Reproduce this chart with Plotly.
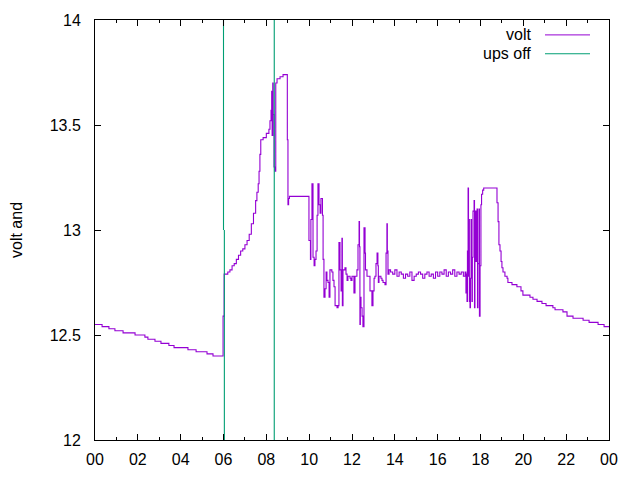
import plotly.graph_objects as go

# ---- data (hours of day, battery voltage) ----
HOURS = [
    0.00, 0.33, 0.65, 0.93, 1.31, 1.87, 2.33, 2.47, 2.80, 3.08, 3.45, 3.69, 4.34, 4.72, 5.23, 5.51,
    5.98, 6.03, 6.20, 6.30, 6.40, 6.50, 6.60, 6.70, 6.80, 6.90, 7.00, 7.10, 7.20, 7.30, 7.40, 7.50,
    7.56, 7.62, 7.66, 7.70, 7.74, 7.85, 8.00, 8.12, 8.17, 8.22, 8.25, 8.27, 8.30, 8.32, 8.36, 8.40,
    8.44, 8.50, 8.64, 8.78, 8.98, 9.01, 9.04, 9.08, 9.99,
    10.06, 10.08, 10.13, 10.18, 10.23, 10.27, 10.32, 10.37, 10.41, 10.46, 10.51, 10.55, 10.62, 10.65,
    10.69, 10.74, 10.79, 10.83, 10.88, 10.93, 10.97, 11.06, 11.11, 11.16, 11.21, 11.30, 11.35, 11.39,
    11.44, 11.49, 11.53, 11.55, 11.58, 11.67, 11.72, 11.77, 11.81, 11.91, 11.95, 12.00, 12.09, 12.14,
    12.23, 12.28, 12.33, 12.35, 12.37, 12.39, 12.42, 12.47, 12.51, 12.56, 12.61, 12.63, 12.70, 12.84,
    12.93, 12.98, 13.03, 13.07, 13.12, 13.17, 13.21, 13.23, 13.26, 13.35, 13.40, 13.45, 13.54, 13.59,
    13.63, 13.65, 13.68, 13.73,
    13.80, 13.90, 14.00, 14.10, 14.20, 14.30, 14.40, 14.50, 14.60, 14.70, 14.80, 14.90, 15.00, 15.10,
    15.20, 15.30, 15.40, 15.50, 15.60, 15.70, 15.80, 15.90, 16.00, 16.10, 16.20, 16.30, 16.40, 16.50,
    16.60, 16.70, 16.80, 16.90, 17.00, 17.10, 17.20, 17.28,
    17.32, 17.34, 17.37, 17.39, 17.42, 17.44, 17.46, 17.48, 17.51, 17.53, 17.56, 17.58, 17.60, 17.62,
    17.65, 17.70, 17.72, 17.74, 17.79, 17.84, 17.86, 17.88, 17.93, 17.95, 17.98, 18.02, 18.05, 18.10,
    18.15, 18.77, 18.82, 18.86, 18.91, 18.96, 19.00, 19.05, 19.14, 19.24, 19.28, 19.47, 19.70, 19.89,
    19.98, 20.31, 20.45, 20.64, 20.87, 21.06, 21.38, 21.48, 21.85, 22.04, 22.32, 22.79, 23.07, 23.49,
    23.77, 24.00,
]
VOLT = [
    12.55, 12.54, 12.53, 12.52, 12.51, 12.50, 12.49, 12.48, 12.47, 12.46, 12.45, 12.44, 12.43, 12.42, 12.41, 12.40,
    12.59, 12.79, 12.80, 12.81, 12.83, 12.84, 12.86, 12.88, 12.90, 12.91, 12.93, 12.95, 12.98, 13.03, 13.08, 13.14,
    13.18, 13.22, 13.28, 13.36, 13.43, 13.44, 13.46, 13.48, 13.52, 13.57, 13.66, 13.45, 13.70, 13.55, 13.30, 13.28,
    13.70, 13.72, 13.73, 13.74, 13.43, 13.12, 13.15, 13.16, 12.95,
    12.86, 13.05, 13.22, 12.87, 12.83, 12.86, 12.90, 13.07, 13.22, 13.12, 13.08, 13.15, 13.07, 12.86,
    12.68, 12.72, 12.80, 12.76, 12.75, 12.68, 12.81, 12.80, 12.76, 12.73, 12.64, 12.63, 12.64, 12.94,
    12.81, 12.71, 12.96, 12.64, 12.81, 12.82, 12.79, 12.76, 12.78, 12.77, 12.76, 12.78, 12.70, 12.78,
    12.81, 12.93, 13.04, 12.92, 12.55, 12.68, 12.63, 12.59, 12.54, 13.01, 12.89, 12.81, 12.78, 12.71,
    12.64, 12.71, 12.77, 12.78, 12.84, 12.89, 12.83, 12.75, 12.78, 12.77, 12.76, 12.75, 12.74, 12.89,
    13.03, 12.90, 12.79, 12.81,
    12.80, 12.79, 12.81, 12.78, 12.80, 12.79, 12.77, 12.79, 12.78, 12.80, 12.76, 12.78, 12.79, 12.80,
    12.79, 12.77, 12.79, 12.80, 12.78, 12.79, 12.77, 12.80, 12.78, 12.80, 12.79, 12.81, 12.78, 12.80,
    12.79, 12.81, 12.78, 12.80, 12.79, 12.80, 12.78, 12.80,
    12.70, 12.79, 12.66, 12.90, 13.20, 12.78, 13.05, 12.66, 12.63, 12.77, 13.05, 12.87, 12.66, 12.87,
    13.09, 13.14, 12.63, 13.09, 12.85, 13.10, 12.63, 12.84, 13.10, 12.59, 12.83, 13.12, 13.17, 13.19,
    13.20, 13.13, 13.04, 12.93, 12.90, 12.85, 12.82, 12.80, 12.78, 12.77, 12.75, 12.74, 12.73, 12.71,
    12.69, 12.68, 12.67, 12.66, 12.65, 12.64, 12.63, 12.62, 12.61, 12.59, 12.58, 12.57, 12.56, 12.55,
    12.54, 12.54,
]

# "ups off" events (vertical markers)
UPS_HOURS = [6.00, 6.00, None, 6.04, 6.04, None, 8.37, 8.37]
UPS_VALUE = [20.0, 13.0, None, 13.0, 0.0, None, 20.0, 0.0]

XTICK_VALS = list(range(0, 25, 2))
XTICK_TEXT = ["00", "02", "04", "06", "08", "10", "12", "14", "16", "18", "20", "22", "00"]
YTICK_VALS = [12, 12.5, 13, 13.5, 14]
YTICK_TEXT = ["12", "12.5", "13", "13.5", "14"]

SERIES_NAMES = ["volt", "ups off"]
COLORS = ["#9400D3", "#009E73"]
Y_TITLE = "volt and"

FONT = dict(family="Liberation Sans, Arial, sans-serif", size=16, color="black")

fig = go.Figure()
fig.add_trace(go.Scatter(x=HOURS, y=VOLT, mode="lines", line=dict(color=COLORS[0], width=1.1, shape="hv"),
                         name=SERIES_NAMES[0], showlegend=False))
fig.add_trace(go.Scatter(x=UPS_HOURS, y=UPS_VALUE, mode="lines", line=dict(color=COLORS[1], width=1.1),
                         name=SERIES_NAMES[1], showlegend=False, connectgaps=False))

W, H = 640, 480
ML, MR, MT, MB = 95, 31, 18, 39
pw, ph = W - ML - MR, H - MT - MB

def px_x(px):
    return (px - ML) / pw

def px_y(py):
    return (H - MB - py) / ph

# gnuplot-style legend: text right-aligned, sample line to its right
legend_rows = [33, 52]
for name, color, ry in zip(SERIES_NAMES, COLORS, legend_rows):
    fig.add_annotation(x=px_x(533), y=px_y(ry), xref="paper", yref="paper", text=name,
                       showarrow=False, xanchor="right", yanchor="middle", font=FONT)
    fig.add_shape(type="line", xref="paper", yref="paper", x0=px_x(545), x1=px_x(590),
                  y0=px_y(ry), y1=px_y(ry), line=dict(color=color, width=1))

fig.add_annotation(x=px_x(16), y=0.5, xref="paper", yref="paper", text=Y_TITLE, textangle=-90,
                   showarrow=False, xanchor="center", yanchor="middle", font=FONT)

axis_common = dict(showline=True, linecolor="black", linewidth=1, mirror="allticks", ticks="inside",
                   tickcolor="black", ticklen=6, tickwidth=1, showgrid=False, zeroline=False,
                   tickfont=FONT)
fig.update_xaxes(range=[0, 24], tickmode="array", tickvals=XTICK_VALS, ticktext=XTICK_TEXT,
                 minor=dict(ticks="inside", dtick=1, ticklen=3, tickcolor="black", showgrid=False),
                 ticklabelstandoff=5, **axis_common)
fig.update_yaxes(range=[12, 14], tickmode="array", tickvals=YTICK_VALS, ticktext=YTICK_TEXT,
                 ticklabelstandoff=10, **axis_common)

fig.update_layout(width=W, height=H, margin=dict(l=ML, r=MR, t=MT, b=MB, pad=0),
                  paper_bgcolor="white", plot_bgcolor="white", font=FONT, showlegend=False)

fig.write_html("out.html")
